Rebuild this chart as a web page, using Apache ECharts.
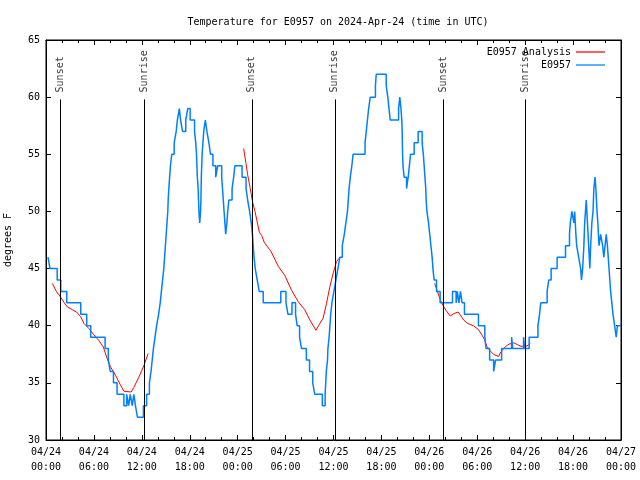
<!DOCTYPE html>
<html>
<head>
<meta charset="utf-8">
<script src="https://cdn.jsdelivr.net/npm/echarts@6/dist/echarts.min.js"></script>
<style>html,body{margin:0;padding:0;background:#fff}#c{width:640px;height:480px}</style>
</head>
<body>
<div id="c"></div>
<script>
// Hours since 2024-04-24 00:00 UTC
const xTickLabels = ['04/24\n00:00','04/24\n06:00','04/24\n12:00','04/24\n18:00','04/25\n00:00','04/25\n06:00','04/25\n12:00','04/25\n18:00','04/26\n00:00','04/26\n06:00','04/26\n12:00','04/26\n18:00','04/27\n00:00'];

const sunEventNames = ['Sunset','Sunrise','Sunset','Sunrise','Sunset','Sunrise'];
const sunEventHours = [1.84, 12.29, 25.78, 36.16, 49.79, 60.04];

// E0957 observations [hour, degF]
const e0957 = [[0.25,46],[0.5,45],[1.4,44],[1.85,43],[2.6,42],[4.35,41],[5.1,40],[5.6,39],[7.4,38],[7.8,37],[8.05,36],[8.45,35],[8.9,34],[9.75,33],[10.1,34],[10.35,33],[10.55,34],[10.8,33],[11.0,34],[11.2,33],[11.45,32],[12.2,33],[12.6,34],[12.95,35],[13.15,36],[13.3,37],[13.45,38],[13.65,39],[13.85,40],[14.1,41],[14.3,42],[14.45,43],[14.6,44],[14.75,45],[14.85,46],[14.95,47],[15.05,48],[15.15,49],[15.25,50],[15.3,51],[15.38,52],[15.48,53],[15.58,54],[15.75,55],[16.05,56],[16.3,57],[16.45,58],[16.7,59],[16.85,58],[17.1,57],[17.5,58],[17.75,59],[18.05,58],[18.6,57],[18.75,56],[18.85,55],[18.9,54],[18.95,53],[19.05,52],[19.1,51],[19.15,50],[19.25,49],[19.35,50],[19.4,51],[19.45,53],[19.55,55],[19.75,57],[19.95,58],[20.15,57],[20.4,56],[20.6,55],[20.9,54],[21.25,53],[21.5,54],[22.0,53],[22.1,52],[22.2,51],[22.3,50],[22.4,49],[22.5,48],[22.65,49],[22.75,50],[22.9,51],[23.3,52],[23.5,53],[23.65,54],[24.55,53],[25.05,52],[25.25,51],[25.5,50],[25.7,49],[25.85,48],[25.95,47],[26.05,46],[26.2,45],[26.45,44],[26.7,43],[27.2,42],[29.4,43],[30.05,42],[30.3,41],[30.8,42],[31.25,41],[31.45,40],[31.75,39],[32.0,38],[32.6,37],[33.0,36],[33.4,35],[33.65,34],[34.6,33],[34.95,34],[35.1,36],[35.25,37],[35.3,38],[35.45,39],[35.55,40],[35.65,41],[35.8,42],[36.05,43],[36.3,44],[36.55,45],[36.8,46],[37.1,47],[37.35,48],[37.55,49],[37.75,50],[37.85,51],[37.95,52],[38.1,53],[38.3,54],[38.45,55],[39.95,56],[40.1,57],[40.25,58],[40.4,59],[40.6,60],[41.25,61],[41.35,62],[42.6,61],[42.8,60],[42.95,59],[43.1,58],[44.15,59],[44.3,60],[44.45,59],[44.55,58],[44.6,57],[44.65,55],[44.7,54],[44.85,53],[45.15,52],[45.35,53],[45.5,54],[45.65,55],[46.1,56],[46.6,57],[47.1,56],[47.25,55],[47.35,54],[47.45,53],[47.55,52],[47.6,51],[47.7,50],[47.9,49],[48.05,48],[48.2,47],[48.35,46],[48.45,45],[48.6,44],[48.9,43],[49.35,42],[50.9,43],[51.35,42],[51.5,43],[51.7,42],[51.9,43],[52.1,42],[52.4,41],[54.15,40],[54.95,39],[55.1,38],[55.55,37],[56.05,36],[56.3,37],[57.05,38],[58.3,39],[58.45,38],[59.8,39],[59.95,38],[60.5,39],[61.6,40],[61.8,41],[61.95,42],[62.75,43],[62.95,44],[63.25,45],[64.0,46],[65.05,47],[65.55,48],[65.65,49],[65.85,50],[66.1,49],[66.2,50],[66.35,48],[66.45,47],[66.7,46],[66.95,45],[67.05,44],[67.2,45],[67.35,47],[67.45,49],[67.55,50],[67.65,51],[67.8,49],[67.95,47],[68.1,45],[68.2,47],[68.35,49],[68.5,50],[68.6,52],[68.75,53],[68.85,52],[69.0,50],[69.1,49],[69.25,47],[69.45,48],[69.7,47],[69.85,46],[70.0,47],[70.15,48],[70.3,47],[70.4,46],[70.5,45],[70.6,44],[70.7,43],[70.85,42],[71.0,41],[71.2,40],[71.4,39],[71.55,40],[72.0,40]];

// E0957 Analysis segments [hour, degF]
const analysisNight1 = [[0.79,43.7],[1.3,43.0],[1.83,42.5],[2.3,42.0],[2.67,41.65],[3.29,41.4],[3.83,41.2],[4.33,40.8],[4.75,40.2],[5.375,39.75],[6.0,39.2],[6.625,38.7],[7.17,38.15],[7.67,37.1],[8.08,36.4],[8.7,35.67],[9.33,34.8],[9.75,34.27],[10.67,34.2],[11.0,34.6],[11.625,35.5],[12.25,36.5],[12.79,37.56]];
const analysisNight2 = [[24.75,55.5],[25.04,54.2],[25.25,53.2],[25.58,52],[25.875,50.8],[26.17,50],[26.5,48.9],[26.71,48.2],[27.0,47.9],[27.33,47.3],[27.75,46.9],[28.17,46.5],[28.67,45.8],[29.08,45.2],[29.9,44.4],[30.75,43.1],[31.58,42.1],[32.4,41.4],[33.04,40.5],[33.8,39.6],[34.29,40.2],[34.7,40.65],[35.125,41.96],[35.54,43.4],[35.96,44.6],[36.375,45.6],[36.7,45.9]];
const analysisNight3 = [[48.67,43.7],[48.96,43.1],[49.375,42.25],[49.79,41.67],[50.2,41.23],[50.625,40.85],[51.04,41.05],[51.6,41.2],[51.875,40.94],[52.29,40.5],[52.8,40.2],[53.5,40.0],[54.1,39.7],[54.58,39.2],[54.9,38.8],[55.2,38.2],[55.625,37.8],[56.04,37.5],[56.67,37.3],[56.875,37.6],[57.2,37.9],[57.58,38.2],[58.0,38.4],[58.6,38.5],[59.0,38.35],[59.46,38.2],[60.1,38.2],[60.42,38.3],[60.625,38.5]];

const FONT = 'DejaVu Sans Mono';
const analysisData = [].concat(analysisNight1, [[13, '-']], analysisNight2, [[37, '-']], analysisNight3);
const sunTop = 59.8;
const sunLinePairs = sunEventHours.map(h => [{coord: [h, 30]}, {coord: [h, sunTop]}]);
const sunLabelData = sunEventHours.map((h, i) => ({value: [h, sunTop], name: sunEventNames[i]}));
const LEGEND_ICON = 'path://M0,0L30,0L30,1.3L0,1.3Z';

const chart = echarts.init(document.getElementById('c'), null, {renderer: 'canvas'});
const axisCommonX = {
  type: 'value', min: 0, max: 72, interval: 6,
  axisLine: {show: true, onZero: false, lineStyle: {color: '#000', width: 1}},
  axisTick: {show: true, inside: true, length: 5, lineStyle: {color: '#000'}},
  minorTick: {show: true, splitNumber: 3, length: 3, lineStyle: {color: '#000'}},
  splitLine: {show: false}
};
const axisCommonY = {
  type: 'value', min: 30, max: 65, interval: 5,
  axisLine: {show: true, onZero: false, lineStyle: {color: '#000', width: 1}},
  axisTick: {show: true, inside: true, length: 5, lineStyle: {color: '#000'}},
  splitLine: {show: false}
};
chart.setOption({
  animation: false,
  backgroundColor: '#fff',
  textStyle: {fontFamily: FONT, fontSize: 10, color: '#000'},
  title: {
    text: 'Temperature for E0957 on 2024-Apr-24 (time in UTC)',
    left: 333, top: 12, textAlign: 'center',
    textStyle: {fontFamily: FONT, fontSize: 10, fontWeight: 'normal', color: '#000'}
  },
  legend: [
    {data: ['E0957 Analysis'], right: 30, top: 42, align: 'right', itemWidth: 29, itemHeight: 14, icon: LEGEND_ICON,
     textStyle: {fontFamily: FONT, fontSize: 10, color: '#000'}, selectedMode: false},
    {data: ['E0957'], right: 30, top: 55, align: 'right', itemWidth: 29, itemHeight: 14, icon: LEGEND_ICON,
     textStyle: {fontFamily: FONT, fontSize: 10, color: '#000'}, selectedMode: false}
  ],
  grid: {left: 46, right: 19, top: 40, bottom: 40, containLabel: false, outerBoundsMode: 'none',
    show: true, borderColor: '#000', borderWidth: 1, backgroundColor: 'transparent'},
  xAxis: [
    Object.assign({}, axisCommonX, {
      position: 'bottom',
      axisLabel: {show: true, margin: 5, lineHeight: 15, fontFamily: FONT, fontSize: 10, color: '#000',
        formatter: v => xTickLabels[Math.round(v / 6)]}
    }),
    Object.assign({}, axisCommonX, {position: 'top', axisLabel: {show: false}})
  ],
  yAxis: [
    Object.assign({}, axisCommonY, {
      position: 'left',
      name: 'degrees F', nameLocation: 'middle', nameGap: 33,
      nameTextStyle: {fontFamily: FONT, fontSize: 10, color: '#000'},
      axisLabel: {show: true, margin: 6, fontFamily: FONT, fontSize: 10, color: '#000'}
    }),
    Object.assign({}, axisCommonY, {position: 'right', axisLabel: {show: false}})
  ],
  series: [
    {
      name: 'sun', type: 'scatter', data: sunLabelData, symbolSize: 0, silent: true,
      label: {show: true, formatter: p => p.name, position: 'top', distance: 7, rotate: 90,
        align: 'left', verticalAlign: 'middle', fontFamily: FONT, fontSize: 10, color: '#000'},
      markLine: {silent: true, symbol: 'none', label: {show: false},
        lineStyle: {color: '#000', width: 1, type: 'solid'}, data: sunLinePairs},
      z: 1
    },
    {
      name: 'E0957 Analysis', type: 'line', data: analysisData, symbol: 'none', connectNulls: false,
      lineStyle: {color: '#ff0000', width: 1}, itemStyle: {color: '#ff0000'}, z: 2
    },
    {
      name: 'E0957', type: 'line', data: e0957, step: 'end', symbol: 'none',
      lineStyle: {color: '#0080ff', width: 1.5}, itemStyle: {color: '#0080ff'}, z: 3
    }
  ]
});
</script>
</body>
</html>
